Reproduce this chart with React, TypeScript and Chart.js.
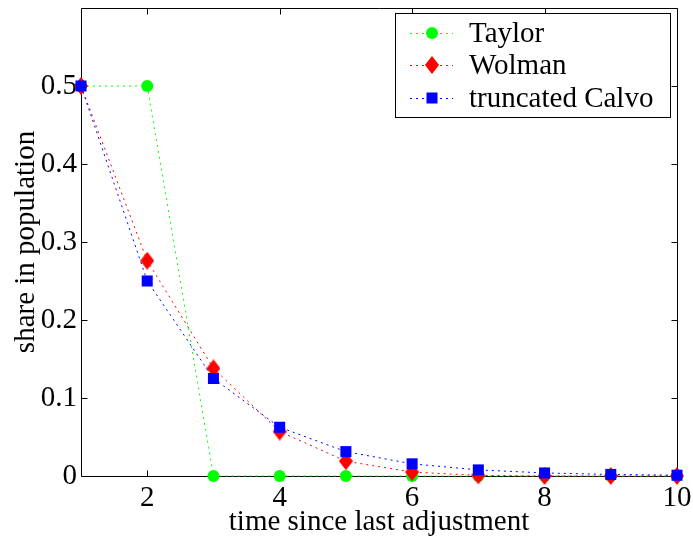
import { useEffect, useRef } from 'react';
import { Chart, registerables } from 'chart.js';
Chart.register(...registerables);

const times = [1, 2, 3, 4, 5, 6, 7, 8, 9, 10];
const taylor = [0.5, 0.5, 0, 0, 0, 0, 0, 0, 0, 0];
const wolman = [0.5, 0.276, 0.138, 0.057, 0.019, 0.005, 0.0008, 0, 0, 0];
const calvo = [0.5, 0.25, 0.125, 0.0625, 0.03125, 0.0156, 0.0078, 0.0039, 0.002, 0.001];
const xTicks = [2, 4, 6, 8, 10];
const yTicks = [0, 0.1, 0.2, 0.3, 0.4, 0.5];
const seriesNames = ['Taylor', 'Wolman', 'truncated Calvo'];
const seriesColors = ['#00ff00', '#ff0000', '#0000ff'];
const xTitle = 'time since last adjustment';
const yTitle = 'share in population';

const FONT = 'Liberation Serif, Times New Roman, serif';

function makeDiamond(color: string): HTMLCanvasElement {
  const c = document.createElement('canvas');
  c.width = 14;
  c.height = 18;
  const g = c.getContext('2d')!;
  g.fillStyle = color;
  g.beginPath();
  g.moveTo(7, 0);
  g.lineTo(14, 9);
  g.lineTo(7, 18);
  g.lineTo(0, 9);
  g.closePath();
  g.fill();
  return c;
}

function drawMarker(ctx: CanvasRenderingContext2D, i: number, x: number, y: number, diamond: HTMLCanvasElement) {
  ctx.fillStyle = seriesColors[i];
  if (i === 0) {
    ctx.beginPath();
    ctx.arc(x, y, 6, 0, Math.PI * 2);
    ctx.fill();
  } else if (i === 1) {
    ctx.drawImage(diamond, x - diamond.width / 2, y - diamond.height / 2);
  } else {
    ctx.fillRect(x - 5.5, y - 5.5, 11, 11);
  }
}

export default function App() {
  const ref = useRef<HTMLCanvasElement | null>(null);
  useEffect(() => {
    if (!ref.current) return;
    const diamond = makeDiamond(seriesColors[1]);
    const series = [taylor, wolman, calvo];
    const styles: any[] = ['circle', diamond, 'rect'];
    const radii = [6, 8, 7.8];
    const orders = [2, 1, 0];

    const framePlugin = {
      id: 'frame',
      beforeDatasetsDraw(chart: any) {
        const ctx = chart.ctx;
        const { left, right, top, bottom } = chart.chartArea;
        const xs = chart.scales.x;
        const ys = chart.scales.y;
        ctx.save();
        ctx.strokeStyle = '#000';
        ctx.lineWidth = 1;
        const L = Math.round(left) + 0.5;
        const R = Math.round(right) + 0.5;
        const T = Math.round(top) + 0.5;
        const B = Math.round(bottom) + 0.5;
        ctx.beginPath();
        ctx.rect(L, T, R - L, B - T);
        ctx.stroke();
        ctx.beginPath();
        xTicks.forEach((v) => {
          const px = Math.round(xs.getPixelForValue(v)) + 0.5;
          ctx.moveTo(px, B);
          ctx.lineTo(px, B - 6);
          ctx.moveTo(px, T);
          ctx.lineTo(px, T + 6);
        });
        yTicks.forEach((v) => {
          const py = Math.round(ys.getPixelForValue(v)) + 0.5;
          ctx.moveTo(L, py);
          ctx.lineTo(L + 6, py);
          ctx.moveTo(R, py);
          ctx.lineTo(R - 6, py);
        });
        ctx.stroke();
        ctx.restore();
      },
    };

    const legendPlugin = {
      id: 'customLegend',
      afterDraw(chart: any) {
        const ctx = chart.ctx;
        ctx.save();
        const bx = 395.5, by = 13.5, bw = 275, bh = 104;
        ctx.fillStyle = '#fff';
        ctx.fillRect(bx, by, bw, bh);
        ctx.strokeStyle = '#000';
        ctx.lineWidth = 1;
        ctx.strokeRect(bx, by, bw, bh);
        const rows = [33, 65, 98];
        seriesNames.forEach((name, i) => {
          const y = rows[i];
          ctx.strokeStyle = seriesColors[i];
          ctx.setLineDash([2, 4]);
          ctx.beginPath();
          ctx.moveTo(410, y + 0.5);
          ctx.lineTo(453, y + 0.5);
          ctx.stroke();
          ctx.setLineDash([]);
          drawMarker(ctx, i, 432, y, diamond);
          ctx.fillStyle = '#000';
          ctx.font = `29px ${FONT}`;
          ctx.textBaseline = 'middle';
          ctx.textAlign = 'left';
          ctx.fillText(name, 469, y + 1);
        });
        ctx.restore();
      },
    };

    const chart = new Chart(ref.current, {
      type: 'line',
      data: {
        datasets: series.map((s, i) => ({
          label: seriesNames[i],
          data: times.map((t, j) => ({ x: t, y: s[j] })),
          borderColor: seriesColors[i],
          backgroundColor: seriesColors[i],
          borderWidth: 1,
          borderDash: [2, 4],
          pointStyle: styles[i],
          pointRadius: radii[i],
          pointHoverRadius: radii[i],
          pointBorderWidth: 0,
          pointBackgroundColor: seriesColors[i],
          fill: false,
          tension: 0,
          clip: false as any,
          order: orders[i],
        })),
      },
      options: {
        responsive: false,
        animation: false,
        events: [],
        layout: { padding: { left: 0, right: 16, top: 6, bottom: 0 } },
        plugins: { legend: { display: false }, tooltip: { enabled: false } },
        scales: {
          x: {
            type: 'linear',
            min: 1,
            max: 10,
            grid: { display: false, drawTicks: false },
            border: { display: false },
            afterBuildTicks: (scale: any) => {
              scale.ticks = xTicks.map((v) => ({ value: v }));
            },
            afterFit: (scale: any) => {
              scale.height = 66;
              scale.paddingLeft = 0;
              scale.paddingRight = 0;
            },
            ticks: {
              color: '#000',
              font: { family: FONT, size: 29 },
              padding: 5,
              maxRotation: 0,
              autoSkip: false,
              callback: (v: any) => String(v),
            },
            title: {
              display: true,
              text: xTitle,
              color: '#000',
              font: { family: FONT, size: 29 },
              padding: { top: 0, bottom: 2 },
            },
          },
          y: {
            type: 'linear',
            min: 0,
            max: 0.6,
            grid: { display: false, drawTicks: false },
            border: { display: false },
            afterBuildTicks: (scale: any) => {
              scale.ticks = yTicks.map((v) => ({ value: v }));
            },
            afterFit: (scale: any) => {
              scale.width = 81;
              scale.paddingTop = 0;
              scale.paddingBottom = 0;
            },
            ticks: {
              color: '#000',
              font: { family: FONT, size: 29 },
              padding: 4,
              autoSkip: false,
              callback: (v: any) => String(Number(Number(v).toFixed(1))),
            },
            title: {
              display: true,
              text: yTitle,
              color: '#000',
              font: { family: FONT, size: 29 },
              padding: { top: 9, bottom: 0 },
            },
          },
        },
      },
      plugins: [framePlugin, legendPlugin],
    });
    return () => chart.destroy();
  }, []);

  return (
    <div style={{ position: 'absolute', left: 0, top: 0, width: 693, height: 542, background: '#fff' }}>
      <canvas ref={ref} width={693} height={542} style={{ display: 'block' }} />
    </div>
  );
}
